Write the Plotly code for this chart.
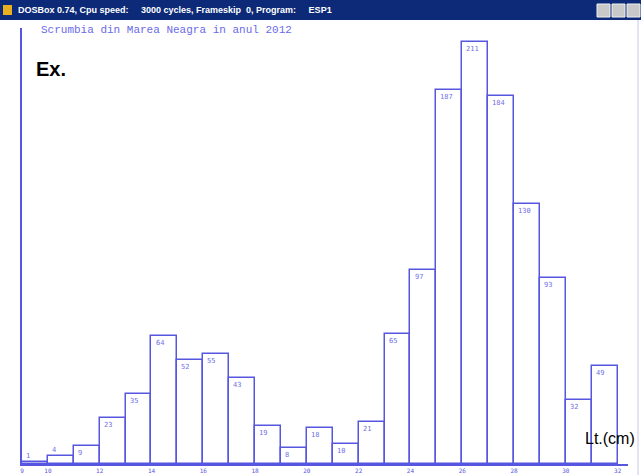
import plotly.graph_objects as go

# ---- data ----
class_left = [9, 10, 11, 12, 13, 14, 15, 16, 17, 18, 19, 20, 21, 22, 23, 24, 25, 26, 27, 28, 29, 30, 31]
counts = [1, 4, 9, 23, 35, 64, 52, 55, 43, 19, 8, 18, 10, 21, 65, 97, 187, 211, 184, 130, 93, 32, 49]
tick_vals = [9, 10, 12, 14, 16, 18, 20, 22, 24, 26, 28, 30, 32]
tick_text = [str(v) for v in tick_vals]

title_text = "Scrumbia din Marea Neagra in anul 2012"
window_text = "DOSBox 0.74, Cpu speed:     3000 cycles, Frameskip  0, Program:     ESP1"

BLUE = "#5656e0"
W, H = 641, 475
L, R, T, B = 22, 13, 28, 11
PW, PH = W - L - R, H - T - B


def px_x(x):
    return (x - L) / PW


def px_y(y):
    return (H - B - y) / PH


centers = [c + 0.5 for c in class_left]

fig = go.Figure()
fig.add_trace(go.Bar(
    x=centers, y=counts, width=1,
    marker=dict(color="white", line=dict(color=BLUE, width=1.5)),
    hoverinfo="skip",
))

annotations = []
for left, v in zip(class_left, counts):
    annotations.append(dict(
        x=left + 0.08, y=v, xref="x", yref="y",
        text=str(v), showarrow=False,
        xanchor="left", yanchor="bottom" if v < 6 else "top",
        yshift=-1 if v >= 6 else 0,
        font=dict(family="DejaVu Sans Mono", size=7, color="#7070e8"),
    ))

# title bar text
annotations.append(dict(
    x=px_x(16), y=px_y(10), xref="paper", yref="paper",
    text="<b>" + window_text + "</b>", showarrow=False,
    xanchor="left", yanchor="middle",
    font=dict(family="Liberation Sans", size=9, color="white"),
))
# chart title
annotations.append(dict(
    x=px_x(39), y=px_y(30), xref="paper", yref="paper",
    text=title_text, showarrow=False,
    xanchor="left", yanchor="middle",
    font=dict(family="Liberation Mono", size=11, color="#6a6ae8"),
))
annotations.append(dict(
    x=px_x(34), y=px_y(69), xref="paper", yref="paper",
    text="<b>Ex.</b>", showarrow=False,
    xanchor="left", yanchor="middle",
    font=dict(family="Liberation Sans", size=20, color="black"),
))
annotations.append(dict(
    x=px_x(637), y=px_y(438), xref="paper", yref="paper",
    text="Lt.(cm)", showarrow=False,
    xanchor="right", yanchor="middle",
    font=dict(family="Liberation Sans", size=16, color="black"),
))

shapes = [
    # title bar
    dict(type="rect", xref="paper", yref="paper",
         x0=px_x(0), x1=px_x(641), y0=px_y(0), y1=px_y(20),
         fillcolor="#0c2a78", line=dict(width=0), layer="above"),
    # icon
    dict(type="rect", xref="paper", yref="paper",
         x0=px_x(3), x1=px_x(12), y0=px_y(5), y1=px_y(15),
         fillcolor="#e8b020", line=dict(width=0), layer="above"),
    # right border
    dict(type="line", xref="paper", yref="paper",
         x0=px_x(638), x1=px_x(638), y0=px_y(20), y1=px_y(475),
         line=dict(color="#c8c8e8", width=1), layer="above"),
]
for bx in (597, 612, 627):
    shapes.append(dict(type="rect", xref="paper", yref="paper",
                       x0=px_x(bx), x1=px_x(bx + 13), y0=px_y(4), y1=px_y(17),
                       fillcolor="#c8c8c8", line=dict(color="#f0f0f0", width=1), layer="above"))

fig.update_layout(
    width=W, height=H,
    margin=dict(l=L, r=R, t=T, b=B, autoexpand=False),
    paper_bgcolor="white", plot_bgcolor="white",
    bargap=0, showlegend=False,
    annotations=annotations, shapes=shapes,
    xaxis=dict(
        range=[9, 32.4], tickvals=tick_vals, ticktext=tick_text,
        tickfont=dict(family="DejaVu Sans Mono", size=6, color=BLUE),
        ticks="", ticklabelstandoff=0, automargin=False,
        showline=True, linecolor=BLUE, linewidth=2,
        showgrid=False, zeroline=False, fixedrange=True,
    ),
    yaxis=dict(
        range=[0, 218], showticklabels=False, ticks="", automargin=False,
        showline=True, linecolor=BLUE, linewidth=2,
        showgrid=False, zeroline=False, fixedrange=True,
    ),
)

fig.write_html(
    "out.html",
    config={"displayModeBar": False},
    post_script="document.body.style.margin='0';document.body.style.overflow='hidden';",
)
